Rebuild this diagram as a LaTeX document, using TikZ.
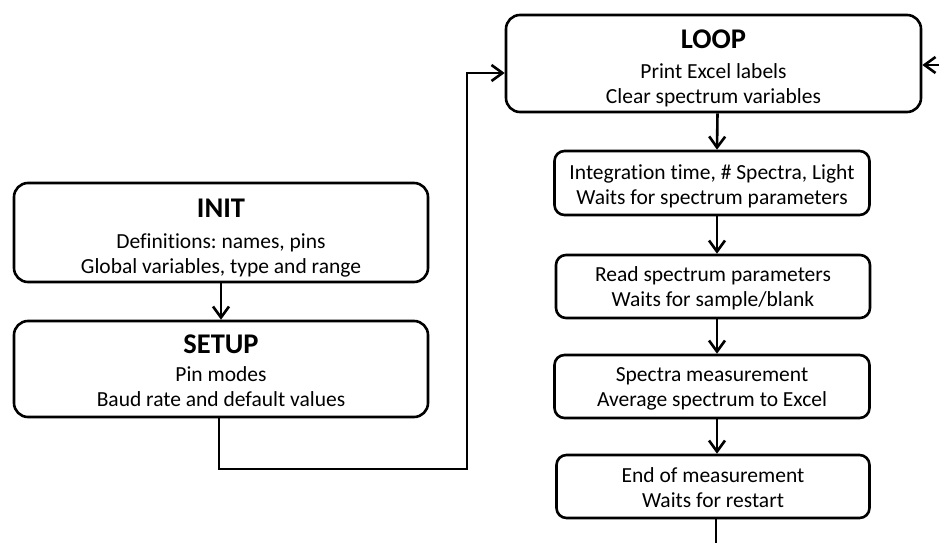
\documentclass[tikz,border=0pt]{standalone}
\usepackage{fontspec}
\setmainfont{Carlito}[Ligatures=NoCommon]
\usetikzlibrary{arrows.meta}
\frenchspacing

\tikzset{
  flowbox/.style={draw, line width=2.6pt, rounded corners=14pt, align=center,
    inner sep=0pt, font=\fontsize{21.5}{25}\selectfont},
  stepbox/.style={flowbox, rounded corners=10pt},
  flow/.style={line width=2.6pt, -{Straight Barb[length=11pt,width=16pt]}},
  plainflow/.style={line width=2.6pt},
}
% title line; the optional strut sets the room above the first line
\newcommand{\boxtitle}[2][0pt]{{\fontsize{28.5}{30}\selectfont\bfseries\rule{0pt}{#1}#2}}
\newcommand{\topgap}[1]{\rule{0pt}{#1}}

\begin{document}
\begin{tikzpicture}[x=1pt, y=-1pt]
  \useasboundingbox (0,0) rectangle (939,543);

  % left column: initialisation
  \node[flowbox, minimum width=414pt, minimum height=99pt] (init) at (221,232.5)
    {\boxtitle[30pt]{INIT}\\[6pt] Definitions: names, pins\\ Global variables, type and range};
  \node[flowbox, minimum width=414pt, minimum height=96pt] (setup) at (221,369)
    {\boxtitle[22pt]{SETUP}\\[3pt] Pin modes\\ Baud rate and default values};

  % right column: main loop
  \node[flowbox, minimum width=415pt, minimum height=97pt] (loop) at (713.5,63.5)
    {\boxtitle[28pt]{LOOP}\\[5pt] Print Excel labels\\ Clear spectrum variables};
  \node[stepbox, minimum width=315pt, minimum height=64pt] (params) at (712,183)
    {\topgap{21pt}Integration time, \# Spectra, Light\\ Waits for spectrum parameters};
  \node[stepbox, minimum width=314pt, minimum height=63pt] (read) at (713,286.5)
    {\topgap{19pt}Read spectrum parameters\\ Waits for sample/blank};
  \node[stepbox, minimum width=315pt, minimum height=63pt] (meas) at (712,386.5)
    {\topgap{19pt}Spectra measurement\\ Average spectrum to Excel};
  \node[stepbox, minimum width=313pt, minimum height=63pt] (finish) at (713,486.5)
    {\topgap{17pt}End of measurement\\ Waits for restart};

  % connector corners and free ends
  \coordinate (c1) at (219,469);
  \coordinate (c2) at (467,469);
  \coordinate (c3) at (467,73);
  \coordinate (rin) at (939,65);
  \coordinate (bot) at (716,543);

  \draw[flow] (init) -- (setup);
  \draw[flow] (setup.south -| c1) -- (c1) -- (c2) -- (c3) -- (c3 -| loop.west);
  \draw[flow] (rin) -- (rin -| loop.east);

  \draw[flow] ([xshift=4pt]loop.south) -- ([xshift=5pt]params.north);
  \draw[flow] ([xshift=5pt]params.south) -- ([xshift=4pt]read.north);
  \draw[flow] ([xshift=4pt]read.south) -- ([xshift=5pt]meas.north);
  \draw[flow] ([xshift=5pt]meas.south) -- ([xshift=4pt]finish.north);
  \draw[plainflow] (finish.south -| bot) -- (bot);
\end{tikzpicture}
\end{document}
